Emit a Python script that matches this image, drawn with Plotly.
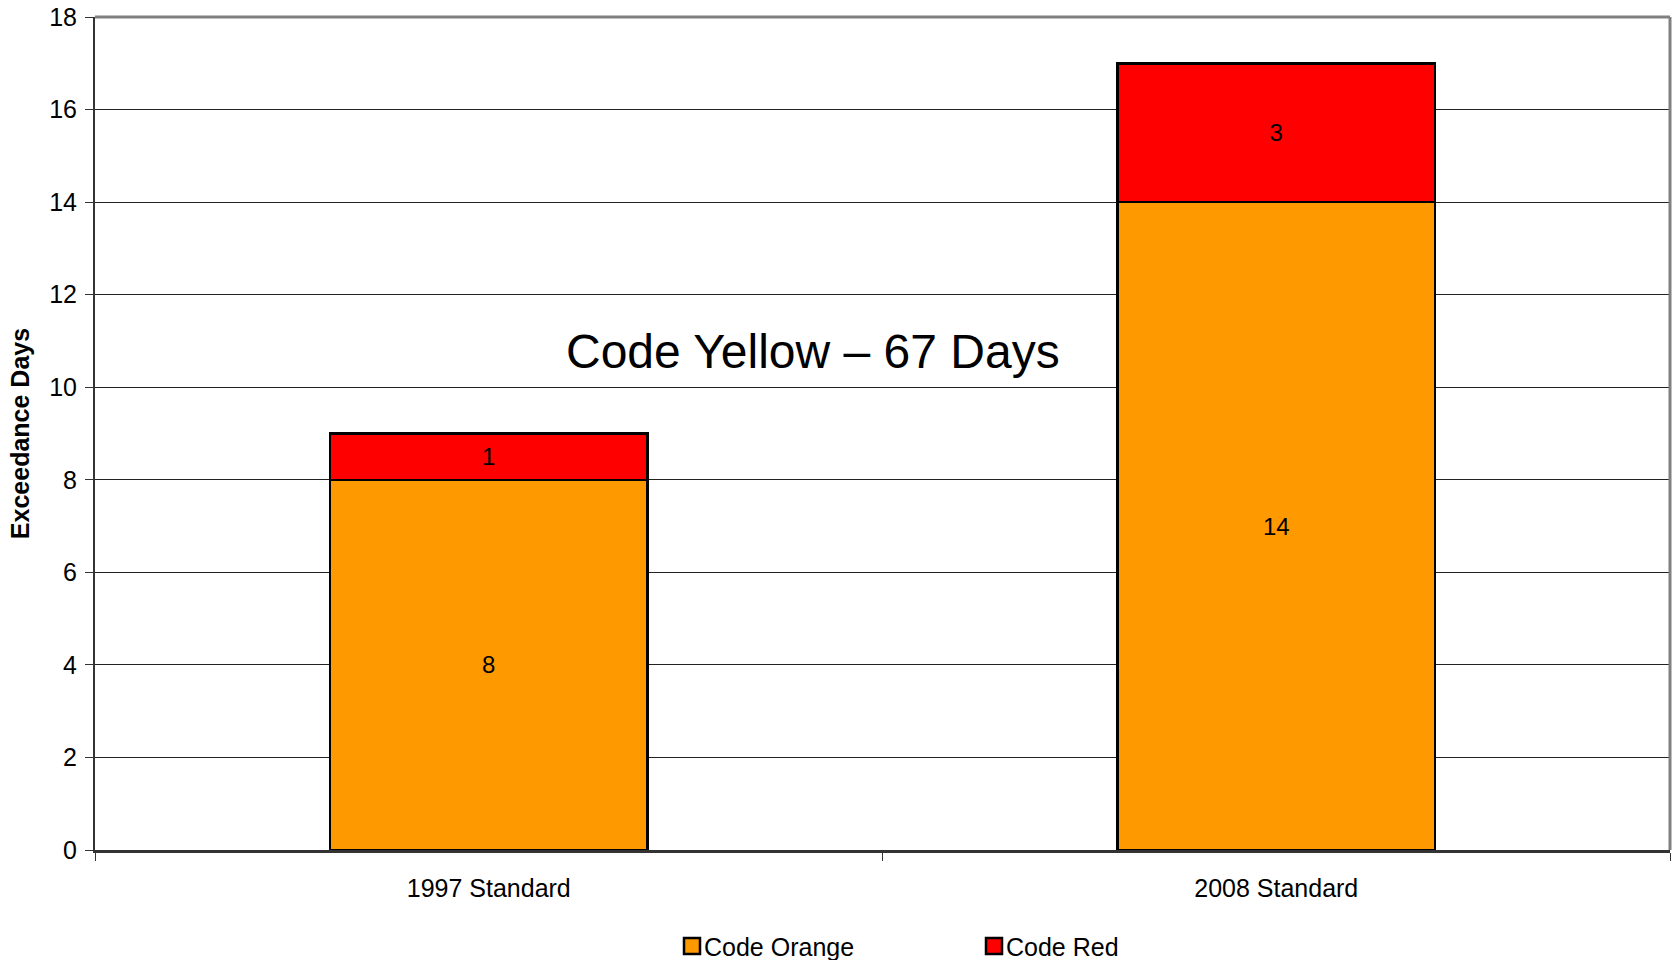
import plotly.graph_objects as go

categories = ["1997 Standard", "2008 Standard"]
code_orange = [8, 14]
code_red = [1, 3]
y_ticks = [0, 2, 4, 6, 8, 10, 12, 14, 16, 18]
legend_names = ["Code Orange", "Code Red"]

FONT = "Liberation Sans, Arial, sans-serif"
ORANGE = "#FF9900"
RED = "#FF0000"
colors = [ORANGE, RED]

fig = go.Figure()
fig.add_trace(go.Bar(
    x=categories, y=code_orange, name="Code Orange", showlegend=False,
    marker=dict(color=ORANGE, line=dict(color="black", width=2.5)),
    text=[str(v) for v in code_orange], textposition="inside",
    insidetextanchor="middle", textfont=dict(size=24, color="black", family=FONT),
    width=0.403,
))
fig.add_trace(go.Bar(
    x=categories, y=code_red, name="Code Red", showlegend=False,
    marker=dict(color=RED, line=dict(color="black", width=2.5)),
    text=[str(v) for v in code_red], textposition="inside",
    insidetextanchor="middle", textfont=dict(size=24, color="black", family=FONT),
    width=0.403,
))

L, R, T, B = 95, 5, 17, 110
W, H = 1675, 960
PW = W - L - R  # 1575
PH = H - T - B  # 833
ox, oy = L, T  # plot origin in page pixels


def px2paper_x(px):
    return (px - ox) / PW


def px2paper_y(py):
    return (oy + PH - py) / PH


shapes = [
    dict(type="line", xref="paper", yref="paper", x0=0, x1=1, y0=1, y1=1,
         line=dict(color="#808080", width=3)),
    dict(type="line", xref="paper", yref="paper", x0=1, x1=1, y0=0, y1=1,
         line=dict(color="#808080", width=3)),
]
annotations = [dict(text="Code Yellow \u2013 67 Days", x=px2paper_x(813), xref="paper",
                    y=10.78, yref="y", showarrow=False,
                    font=dict(size=48, color="black", family=FONT))]
# manual legend (square swatches)
sw_x = [683, 985]
for name, col, sx in zip(legend_names, colors, sw_x):
    shapes.append(dict(type="rect", xref="paper", yref="paper",
                       x0=px2paper_x(sx + 1), x1=px2paper_x(sx + 17),
                       y0=px2paper_y(954), y1=px2paper_y(938),
                       fillcolor=col, line=dict(color="black", width=2.5)))
    annotations.append(dict(text=name, xref="paper", yref="paper",
                            x=px2paper_x(sx + 19), xanchor="left",
                            y=px2paper_y(947), yanchor="middle", showarrow=False,
                            font=dict(size=25, color="black", family=FONT)))

fig.update_layout(
    barmode="stack",
    width=W, height=H,
    margin=dict(l=L, r=R, t=T, b=B),
    plot_bgcolor="white", paper_bgcolor="white",
    font=dict(family=FONT, color="black", size=24),
    showlegend=False,
    uniformtext=dict(mode="show", minsize=10),
    annotations=annotations,
    shapes=shapes,
)
fig.update_xaxes(
    automargin=False,
    showline=True, linecolor="#333333", linewidth=3,
    ticks="outside", tickson="boundaries", ticklen=8, tickcolor="#333333",
    tickfont=dict(size=25), ticklabelstandoff=14, ticklabeloverflow="allow",
)
fig.update_yaxes(
    automargin=False,
    range=[0, 18], tickvals=y_ticks,
    showline=True, linecolor="#333333", linewidth=2,
    ticks="outside", ticklen=8, tickcolor="#333333",
    showgrid=True, gridcolor="#222222", gridwidth=1,
    tickfont=dict(size=25), ticklabelstandoff=3, ticklabeloverflow="allow",
    title=dict(text="<b>Exceedance Days</b>", font=dict(size=25), standoff=12),
    zeroline=False,
)

fig.write_html("out.html",
               config={"displayModeBar": False},
               post_script="document.body.style.margin='0px';document.body.style.overflow='hidden';")
